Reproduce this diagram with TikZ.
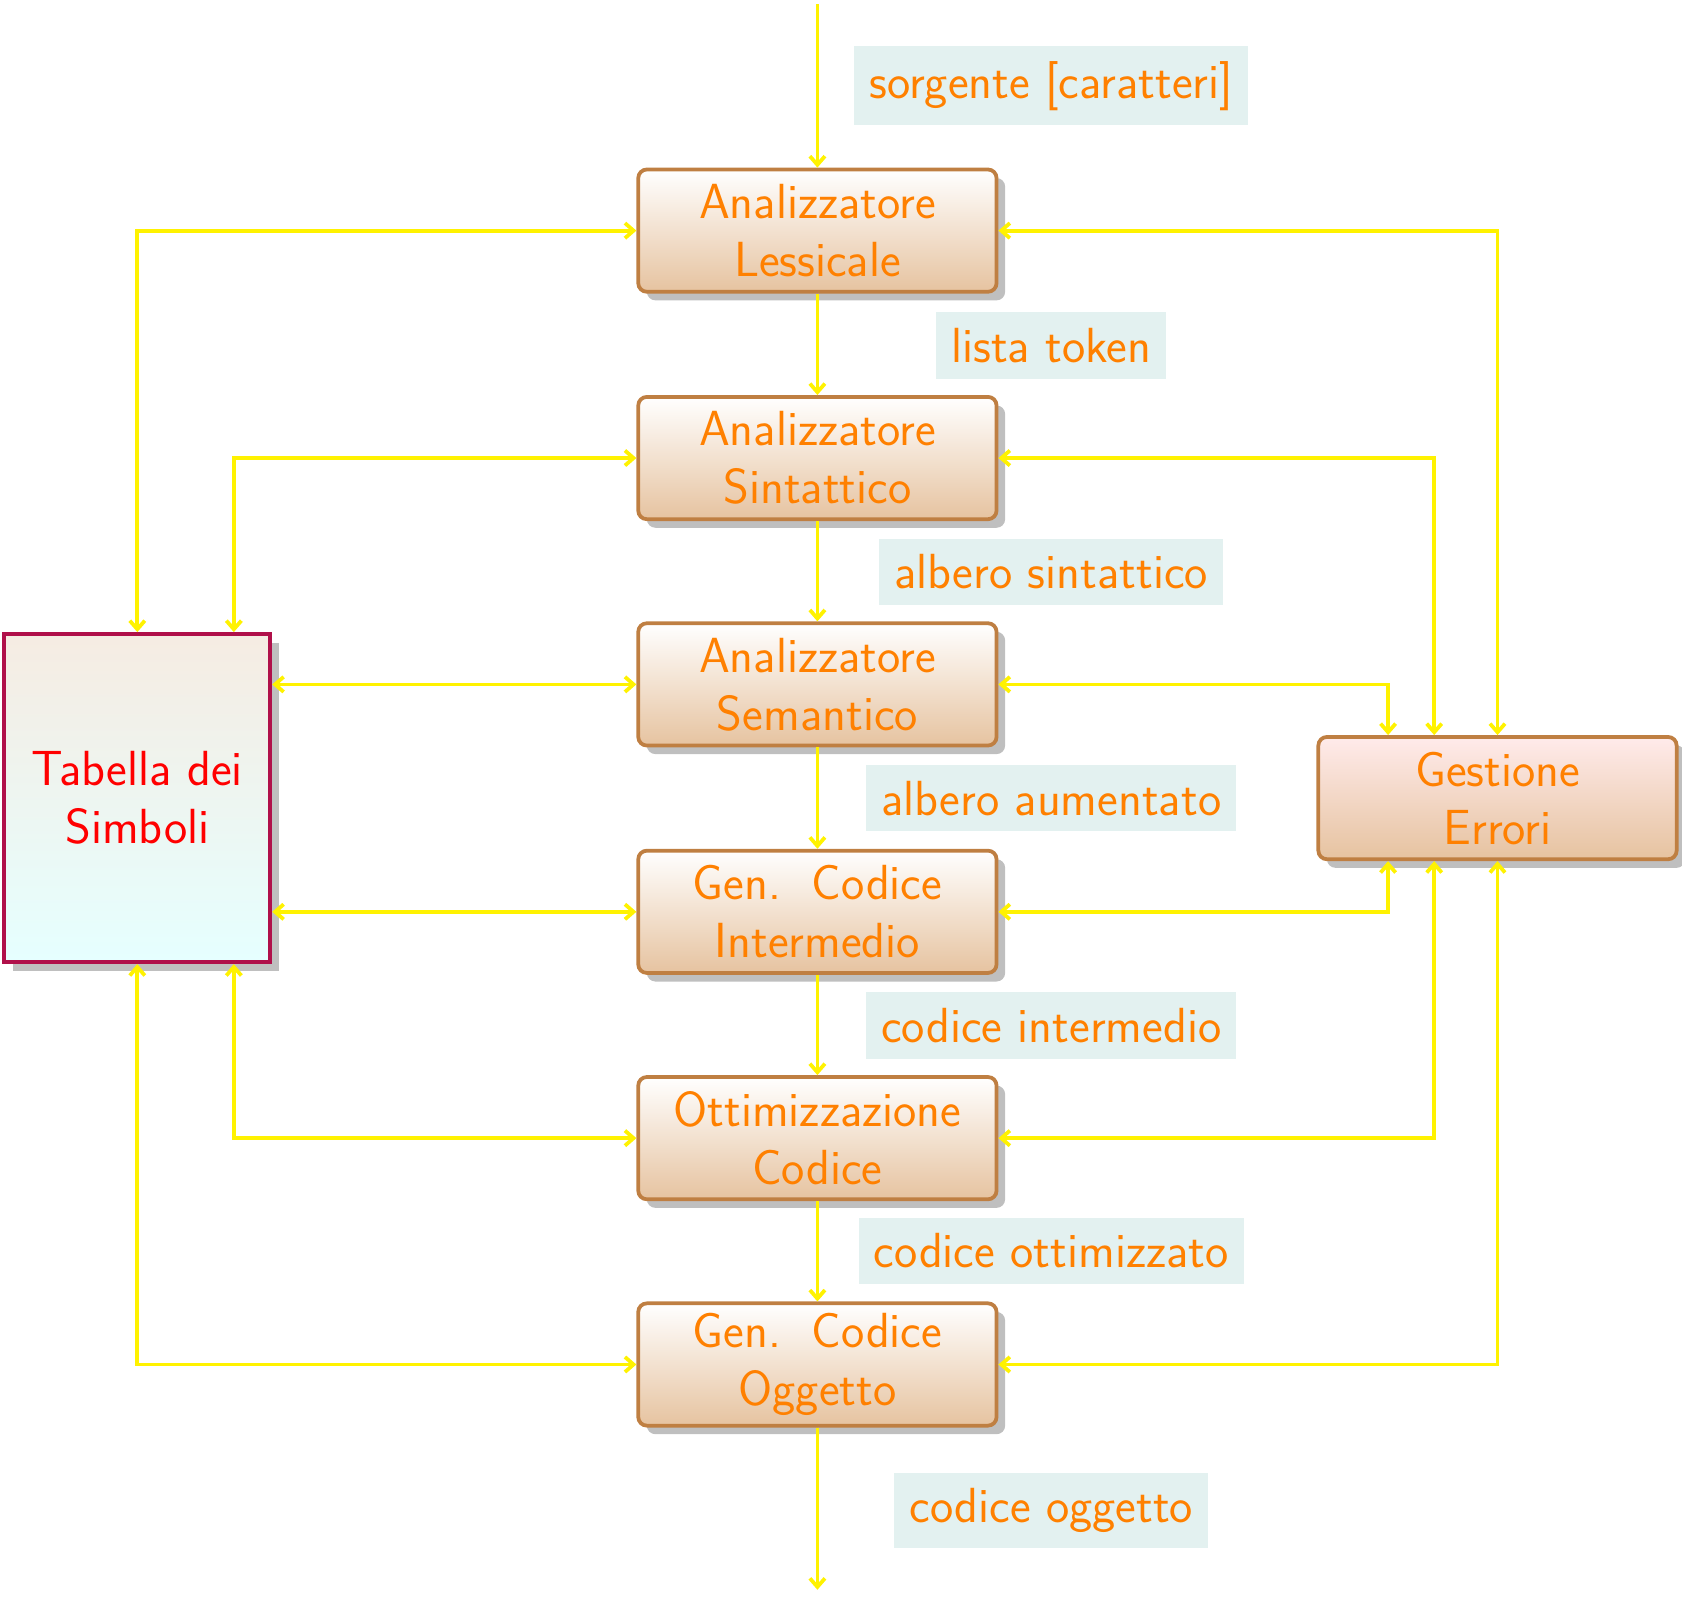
\documentclass[tikz,border=0pt]{standalone}
\usepackage{fontspec}
\usetikzlibrary{shadows,arrows.meta}
\begin{document}
\definecolor{brd}{HTML}{BF7F42}
\definecolor{tan}{HTML}{E6C3A0}
\definecolor{lbl}{HTML}{E3F1F0}
\definecolor{org}{HTML}{FF8000}
\definecolor{tb}{HTML}{B0104A}
\begin{tikzpicture}[x=1pt,y=-1pt,
 font=\sffamily\fontsize{46}{54}\selectfont,
 box/.style={draw=brd,line width=3.5pt,rounded corners=8pt,minimum width=334pt,minimum height=114pt,inner sep=2pt,
   align=center,text=org,top color=white,bottom color=tan,drop shadow={shadow xshift=8pt,shadow yshift=-8pt,fill=black!25,opacity=1}},
 lab/.style={fill=lbl,text=org,inner sep=14pt,minimum height=62pt},
 con/.style={draw=yellow,line width=3.5pt,{Straight Barb[length=8pt,width=14pt]}-{Straight Barb[length=8pt,width=14pt]}},
 flow/.style={draw=yellow,line width=3.5pt,-{Straight Barb[length=8pt,width=14pt]}}]
\useasboundingbox (0,0) rectangle (1568,1488);
\node[box] (a) at (762,215) {Analizzatore\\Lessicale};
\node[box] (b) at (762,427) {Analizzatore\\Sintattico};
\node[box] (c) at (762,638) {Analizzatore\\Semantico};
\node[box] (d) at (762,850) {Gen.\ \ Codice\\Intermedio};
\node[box] (e) at (762,1061) {Ottimizzazione\\Codice};
\node[box] (f) at (762,1272) {Gen.\ \ Codice\\Oggetto};
\node[draw=tb,line width=3.5pt,minimum width=248pt,minimum height=306pt,align=center,text=red,
  top color=brown!15,bottom color=cyan!10,drop shadow={shadow xshift=8pt,shadow yshift=-8pt,fill=black!25,opacity=1}]
  (t) at (128,744) {Tabella dei\\Simboli};
\node[box,top color=red!8] (g) at (1396,744) {Gestione\\Errori};
\coordinate (in) at (762,4);
\coordinate (out) at (762,1482);
\draw[flow] (in) -- (a);
\draw[flow] (a) -- (b);
\draw[flow] (b) -- (c);
\draw[flow] (c) -- (d);
\draw[flow] (d) -- (e);
\draw[flow] (e) -- (f);
\draw[flow] (f) -- (out);
\node[lab] at (980,80) {sorgente [caratteri]};
\node[lab] at (980,322) {lista token};
\node[lab] at (980,533) {albero sintattico};
\node[lab] at (980,744) {albero aumentato};
\node[lab] at (980,956) {codice intermedio};
\node[lab] at (980,1166) {codice ottimizzato};
\node[lab] at (980,1408) {codice oggetto};
% left
\draw[con] (a.west) -| (t.north);
\draw[con] (b.west) -| ([xshift=90pt]t.north);
\draw[con] (c.west) -- (t.east |- c.west);
\draw[con] (d.west) -- (t.east |- d.west);
\draw[con] (e.west) -| ([xshift=90pt]t.south);
\draw[con] (f.west) -| (t.south);
% right
\draw[con] (a.east) -| (g.north);
\draw[con] (b.east) -| ([xshift=-59pt]g.north);
\draw[con] (c.east) -| ([xshift=-102pt]g.north);
\draw[con] (d.east) -| ([xshift=-102pt]g.south);
\draw[con] (e.east) -| ([xshift=-59pt]g.south);
\draw[con] (f.east) -| (g.south);
\end{tikzpicture}
\end{document}
